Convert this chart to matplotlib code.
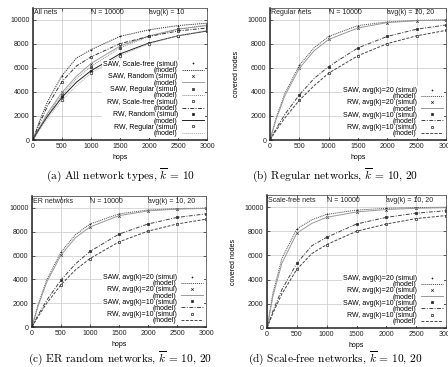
import matplotlib
matplotlib.use("Agg")
import matplotlib.pyplot as plt

plt.rcParams['font.family'] = ['Liberation Sans', 'DejaVu Sans']
plt.rcParams['mathtext.fontset'] = 'cm'

# ---- data ----
hops_simul = [0, 500, 1000, 1500, 2000, 2500, 3000]
hops_model = [0, 100, 250, 500, 750, 1000, 1500, 2000, 2500, 3000]

# k = 10
reg_saw10_s = [0, 3750, 6100, 7650, 8600, 9200, 9550]
reg_saw10_m = [0, 900, 2100, 3750, 5100, 6100, 7650, 8600, 9200, 9550]
reg_rw10_s = [0, 3300, 5550, 7000, 8000, 8650, 9100]
reg_rw10_m = [0, 770, 1810, 3300, 4500, 5550, 7000, 8000, 8650, 9100]
er_saw10_s = [0, 3950, 6350, 7800, 8650, 9200, 9500]
er_saw10_m = [0, 960, 2220, 3950, 5300, 6350, 7800, 8650, 9200, 9500]
er_rw10_s = [0, 3550, 5750, 7150, 8050, 8650, 9050]
er_rw10_m = [0, 840, 1970, 3550, 4800, 5750, 7150, 8050, 8650, 9050]
sf_saw10_s = [0, 5350, 7500, 8600, 9150, 9500, 9700]
sf_saw10_m = [0, 1420, 3180, 5350, 6800, 7500, 8600, 9150, 9500, 9700]
sf_rw10_s = [0, 4850, 6900, 8000, 8600, 9050, 9300]
sf_rw10_m = [0, 1240, 2830, 4850, 6150, 6900, 8000, 8600, 9050, 9300]

# k = 20
reg_saw20_s = [0, 6200, 8600, 9500, 9800, 9930, 9970]
reg_saw20_m = [0, 1760, 3840, 6200, 7650, 8600, 9500, 9800, 9930, 9970]
reg_rw20_s = [0, 5950, 8350, 9300, 9750, 9900, 9960]
reg_rw20_m = [0, 1650, 3640, 5950, 7400, 8350, 9300, 9750, 9900, 9960]
er_saw20_s = [0, 6300, 8650, 9500, 9820, 9940, 9980]
er_saw20_m = [0, 1800, 3920, 6300, 7750, 8650, 9500, 9820, 9940, 9980]
er_rw20_s = [0, 6050, 8400, 9350, 9750, 9900, 9960]
er_rw20_m = [0, 1700, 3720, 6050, 7500, 8400, 9350, 9750, 9900, 9960]
sf_saw20_s = [0, 8200, 9400, 9750, 9900, 9960, 9990]
sf_saw20_m = [0, 2900, 5760, 8200, 8950, 9400, 9750, 9900, 9960, 9990]
sf_rw20_s = [0, 7850, 9150, 9600, 9800, 9900, 9950]
sf_rw20_m = [0, 2650, 5360, 7850, 8650, 9150, 9600, 9800, 9900, 9950]

xticks = [0, 500, 1000, 1500, 2000, 2500, 3000]
yticks = [0, 2000, 4000, 6000, 8000, 10000]

fig = plt.figure(figsize=(4.48, 3.67), dpi=100)

def px_axes(l, t, r, b):
    W, H = 448.0, 367.0
    return fig.add_axes([l / W, 1 - b / H, (r - l) / W, (b - t) / H])

FS = 5.0
CAP = 8.2

def style(ax, labels):
    ax.set_xlim(0, 3000)
    ax.set_ylim(0, 11000)
    ax.set_xticks(xticks)
    ax.set_yticks(yticks)
    ax.tick_params(direction='in', length=2.5, width=0.5, labelsize=FS, pad=2.5,
                   top=True, right=True, colors='#222222')
    ax.grid(True, color='#c8c8c8', lw=0.5)
    ax.set_axisbelow(True)
    for s in ['left', 'bottom']:
        ax.spines[s].set_linewidth(1.1)
        ax.spines[s].set_color('#222222')
    for s in ['top', 'right']:
        ax.spines[s].set_linewidth(0.6)
        ax.spines[s].set_color('#555555')
    ax.set_xlabel('hops', fontsize=FS, labelpad=2.5)
    ax.set_ylabel('covered nodes', fontsize=FS, labelpad=5)
    xs = [15, 1000, 2000]
    for x, t in zip(xs, labels):
        ax.text(x, 0.985, t, transform=ax.get_xaxis_transform(), fontsize=FS,
                va='top', ha='left', color='#222222')

def draw(ax, series, spacing):
    for lab, hs, ys, mk, mfc, hm, ym, ls, col in series:
        ax.plot(hs, ys, linestyle='none', marker=mk, ms=1.8, mew=0.5,
                mfc=mfc, mec='#222222', color='#222222', label=lab + ' (simul)')
        ax.plot(hm, ym, linestyle=ls, lw=0.7, color=col, label='(model)')
    leg = ax.legend(loc='lower right', fontsize=FS, markerfirst=False,
                    frameon=True, framealpha=1, edgecolor='none', facecolor='white',
                    handlelength=3.2, handletextpad=0.6, labelspacing=spacing,
                    borderpad=0.15, borderaxespad=0.25, fancybox=False)
    leg._legend_box.align = 'right'
    return leg

def caption(x, y, letter, body, kval):
    fig.text(x / 448, 1 - y / 367,
             '(' + letter + ') ' + body + r', $\overline{k}\,=\,' + kval + '$',
             ha='center', va='center', fontsize=CAP, family='cmr10')

# (a)
ax = px_axes(33, 7.5, 207, 140)
style(ax, ['All nets', 'N = 10000', 'avg(k) = 10'])
draw(ax, [
    ('SAW, Scale-free', hops_simul, sf_saw10_s, '+', '#222222', hops_model, sf_saw10_m, (0, (1.2, 1)), '#333333'),
    ('SAW, Random', hops_simul, er_saw10_s, 'x', '#222222', hops_model, er_saw10_m, '-', '#a0a0a0'),
    ('SAW, Regular', hops_simul, reg_saw10_s, 's', '#555555', hops_model, reg_saw10_m, (0, (1, 1)), '#888888'),
    ('RW, Scale-free', hops_simul, sf_rw10_s, 's', 'white', hops_model, sf_rw10_m, (0, (4, 1.5, 1, 1.5)), '#333333'),
    ('RW, Random', hops_simul, er_rw10_s, 's', '#111111', hops_model, er_rw10_m, '-', '#222222'),
    ('RW, Regular', hops_simul, reg_rw10_s, 'o', 'white', hops_model, reg_rw10_m, (0, (1, 1)), '#aaaaaa'),
], -0.1)
caption(120, 176, 'a', 'All network types', '10')

def draw_k(ax, saw20s, saw20m, rw20s, rw20m, saw10s, saw10m, rw10s, rw10m):
    draw(ax, [
        ('SAW, avg(k)=20', hops_simul, saw20s, '+', '#222222', hops_model, saw20m, (0, (1, 1)), '#444444'),
        ('RW, avg(k)=20', hops_simul, rw20s, 'x', '#222222', hops_model, rw20m, '-', '#999999'),
        ('SAW, avg(k)=10', hops_simul, saw10s, 's', '#222222', hops_model, saw10m, (0, (4, 1.5, 1, 1.5)), '#444444'),
        ('RW, avg(k)=10', hops_simul, rw10s, 's', 'white', hops_model, rw10m, (0, (3, 1.5)), '#444444'),
    ], -0.12)

# (b)
ax = px_axes(270, 7.5, 446, 140)
style(ax, ['Regular nets', 'N = 10000', 'avg(k) = 10, 20'])
draw_k(ax, reg_saw20_s, reg_saw20_m, reg_rw20_s, reg_rw20_m,
       reg_saw10_s, reg_saw10_m, reg_rw10_s, reg_rw10_m)
caption(335, 176, 'b', 'Regular networks', '10,\,20')

# (c)
ax = px_axes(32, 196, 206, 327)
style(ax, ['ER networks', 'N = 10000', 'avg(k) = 10, 20'])
draw_k(ax, er_saw20_s, er_saw20_m, er_rw20_s, er_rw20_m,
       er_saw10_s, er_saw10_m, er_rw10_s, er_rw10_m)
caption(120, 359, 'c', 'ER random networks', '10,\,20')

# (d)
ax = px_axes(267, 195, 446, 328)
style(ax, ['Scale-free nets', 'N = 10000', 'avg(k) = 10, 20'])
draw_k(ax, sf_saw20_s, sf_saw20_m, sf_rw20_s, sf_rw20_m,
       sf_saw10_s, sf_saw10_m, sf_rw10_s, sf_rw10_m)
caption(335, 359, 'd', 'Scale-free networks', '10,\,20')

fig.savefig('out.png', dpi=100)
